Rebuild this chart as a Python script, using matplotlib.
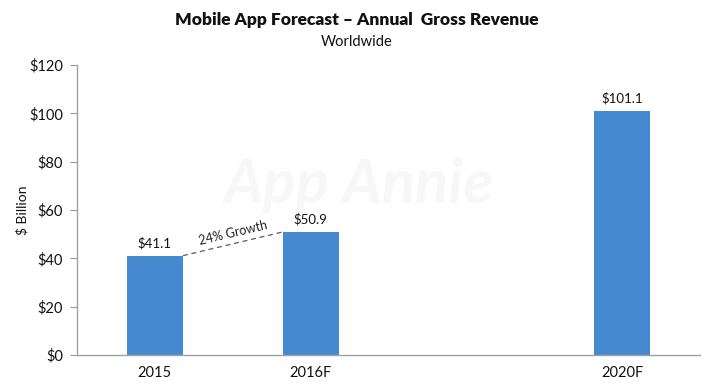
import matplotlib
matplotlib.use("Agg")
import matplotlib.pyplot as plt
import numpy as np

categories = ["2015", "2016F", "2020F"]
positions = [0, 1, 3]
values = [41.1, 50.9, 101.1]
value_labels = ["$41.1", "$50.9", "$101.1"]
yticks = [0, 20, 40, 60, 80, 100, 120]
ytick_labels = ["$0", "$20", "$40", "$60", "$80", "$100", "$120"]
growth_label = "24% Growth"

plt.rcParams['font.family'] = ['Lato', 'DejaVu Sans']

fig = plt.figure(figsize=(7.13, 3.88), dpi=100)
ax = fig.add_axes([77/713, 33/388, 623/713, 290/388])

bar_w = 0.36
color = "#4589D0"
ax.bar(positions, values, width=bar_w, color=color, zorder=2)

for p, v, lab in zip(positions, values, value_labels):
    ax.text(p, v + 2.5, lab, ha="center", va="bottom", fontsize=9.5, color="#111111")

# growth dashed line
x0, y0 = positions[0] + bar_w/2, values[0]
x1, y1 = positions[1] - bar_w/2, values[1]
ax.plot([x0, x1], [y0, y1], ls=(0, (4, 3)), color="#555f6a", lw=0.9, zorder=3)

ax.set_xlim(-0.5, 3.5)
ax.set_ylim(0, 120)
ax.set_yticks(yticks)
ax.set_yticklabels(ytick_labels, fontsize=10.5, color="#111111")
ax.set_xticks(positions)
ax.set_xticklabels(categories, fontsize=10.5, color="#111111")
ax.tick_params(axis="x", length=0, pad=8)
ax.tick_params(axis="y", length=5, width=0.8, color="#999999", pad=5)
ax.set_ylabel("$ Billion", fontsize=10, color="#111111")
ax.yaxis.set_label_coords((29 - 77) / 623, 0.5)

for s in ["top", "right"]:
    ax.spines[s].set_visible(False)
for s in ["left", "bottom"]:
    ax.spines[s].set_color("#a0a0a0")
    ax.spines[s].set_linewidth(1.0)

# rotated growth label
fig.canvas.draw()
p0 = ax.transData.transform((x0, y0))
p1 = ax.transData.transform((x1, y1))
ang = np.degrees(np.arctan2(p1[1]-p0[1], p1[0]-p0[0]))
ax.text((x0+x1)/2, (y0+y1)/2 + 4.5, growth_label, rotation=ang, rotation_mode="anchor",
        ha="center", va="center", fontsize=9, color="#222222")

# watermark
fig.text(358/713, 1-185/388, "App Annie", fontsize=44, style="italic", fontweight="bold",
         color="#f7f7f7", ha="center", va="center", zorder=0)

fig.text(0.5, 1-20/388, "Mobile App Forecast – Annual  Gross Revenue", ha="center", va="center",
         fontsize=12.5, fontweight="heavy", color="#111111")
fig.text(0.5, 1-42/388, "Worldwide", ha="center", va="center", fontsize=10.5, color="#111111")

fig.savefig("out.png", dpi=100)
